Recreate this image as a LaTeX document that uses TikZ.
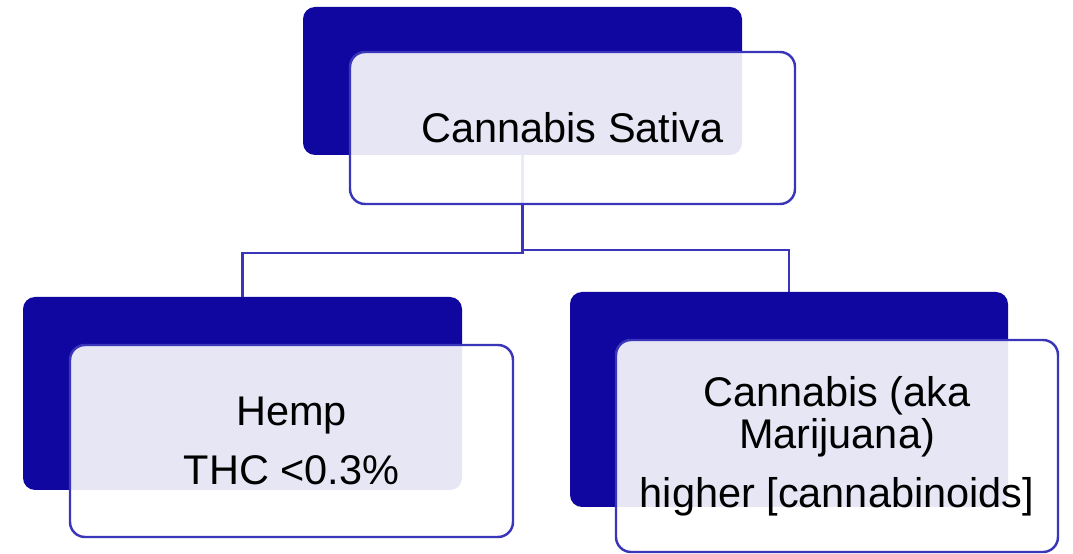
\documentclass[tikz,border=0pt]{standalone}
\usepackage{fontspec}
\setmainfont{Liberation Sans}
\usepackage{tikz}
\usetikzlibrary{positioning}
\definecolor{navy}{RGB}{16,6,160}
\definecolor{edgeblue}{RGB}{58,54,186}

\begin{document}
\begin{tikzpicture}[text centered, font=\fontsize{11.8}{12}\selectfont]
    \tikzset{%
      back/.style={fill=navy, rounded corners=0.12cm, inner sep=0pt, outer sep=0pt},
      card/.style={draw=edgeblue, line width=0.7pt, fill=white, fill opacity=0.9, text opacity=1,
        rounded corners=0.15cm, inner sep=0pt, outer sep=0pt, align=center},
      link/.style={draw=edgeblue, line width=0.8pt}
      }
     \useasboundingbox (0,0) rectangle (10.73,5.54);

     \node [back, minimum width=4.39cm, minimum height=1.48cm] (Bsat) at (5.225,4.73) {};
     \node [back, minimum width=4.39cm, minimum height=1.93cm] (Bhemp) at (2.425,1.605) {};
     \node [back, minimum width=4.38cm, minimum height=2.15cm] (Bmar) at (7.89,1.545) {};

     \draw [link] (Bsat.south) -- ++(0,-0.98) -| (Bhemp.north);
     \draw [link] (Bsat.south) -- ++(0,-0.95) -| (Bmar.north);

     \node [card, minimum width=4.45cm, minimum height=1.52cm] (sat) at (5.725,4.26) {Cannabis Sativa};
     \node [card, minimum width=4.43cm, minimum height=1.92cm] (hemp) at (2.915,1.13)
       {Hemp\\[4.6pt] THC <0.3\%};
     \node [card, minimum width=4.42cm, minimum height=2.12cm] (mar) at (8.37,1.08)
       {Cannabis (aka\\ Marijuana)\\[4.8pt] higher [cannabinoids]};

  \end{tikzpicture}
\end{document}
